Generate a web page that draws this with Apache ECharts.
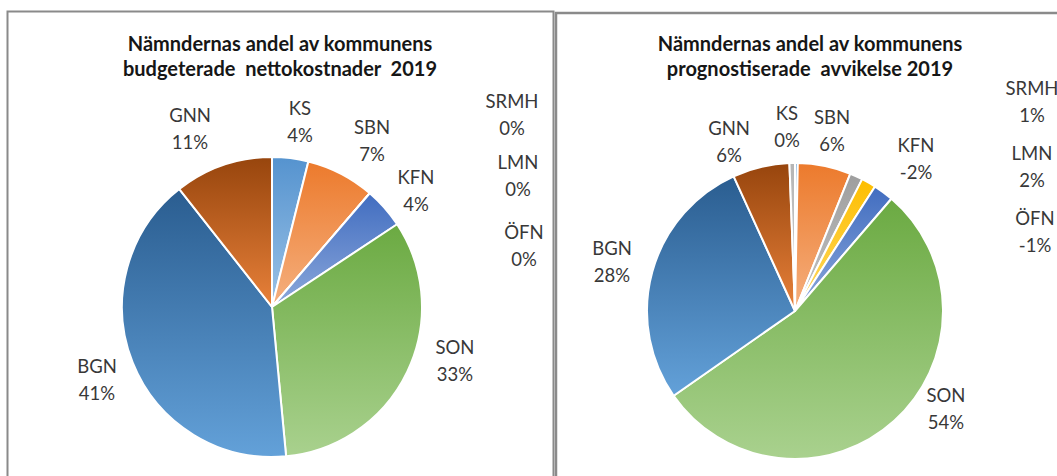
<!DOCTYPE html>
<html>
<head>
<meta charset="utf-8">
<script src="https://cdn.jsdelivr.net/npm/echarts@6/dist/echarts.min.js"></script>
<style>
html,body{margin:0;padding:0;background:#fff;}
#chart{width:1057px;height:476px;}
</style>
</head>
<body>
<div id="chart"></div>
<script>
// ---- data ----
const categories = ['KS','SBN','SRMH','LMN','KFN','SON','BGN','GNN','ÖFN'];
const budgetShare = [3.9, 7.4, 0, 0, 4.4, 32.8, 40.9, 10.6, 0];          // % of budgeted net costs 2019
const forecastShare = [0.3, 5.8, 1.4, 1.6, -2.2, 54.0, 27.9, 6.2, -0.6]; // % of forecast deviation 2019
const titleBudget = 'Nämndernas andel av kommunens\nbudgeterade  nettokostnader  2019';
const titleForecast = 'Nämndernas andel av kommunens\nprognostiserade  avvikelse 2019';

// ---- styles ----
const gradients = {
  'KS':   ['#5593CF', '#9BC2E6'],
  'SBN':  ['#EC7A2C', '#F5B07F'],
  'SRMH': ['#9E9E9E', '#C4C4C4'],
  'LMN':  ['#FDBE00', '#FFD966'],
  'KFN':  ['#416DC0', '#8CA8DB'],
  'SON':  ['#6BAA42', '#A9D18E'],
  'BGN':  ['#2A5D90', '#63A1D9'],
  'GNN':  ['#97450D', '#E8813A'],
  'ÖFN':  ['#B5B5B5', '#D0D0D0']
};
// label anchor points (centre of the two-line label), page pixels
const labelPosBudget = {
  'GNN':[190,128],'KS':[300,121],'SBN':[372,140],'KFN':[416,190],
  'SRMH':[512,114],'LMN':[518,175],'ÖFN':[524,245],'SON':[455,360],'BGN':[97,379]
};
const labelPosForecast = {
  'GNN':[729,141],'KS':[787,126],'SBN':[832,130],'KFN':[916,158],
  'SRMH':[1032,101],'LMN':[1032,166],'ÖFN':[1035,231],'BGN':[612,261],'SON':[946,408]
};

const FONT = 'Lato, "Open Sans", sans-serif';

function grad(name){
  const g = gradients[name];
  return {type:'linear', x:0, y:0, x2:0, y2:1, global:false,
    colorStops:[{offset:0,color:g[0]},{offset:1,color:g[1]}]};
}
function buildData(values){
  return categories.map((n,i)=>({
    name:n, value:Math.abs(values[i]), signed:values[i],
    itemStyle:{color:grad(n)}
  }));
}
function fmtPct(v){
  const r = Math.round(v);
  return (r === 0 ? 0 : r) + '%';
}
function pieSeries(values, center, radius, posMap){
  return {
    type:'pie',
    center:center,
    radius:radius,
    startAngle:90,
    clockwise:true,
    avoidLabelOverlap:false,
    stillShowZeroSum:true,
    animation:false,
    data:buildData(values),
    itemStyle:{borderColor:'#ffffff', borderWidth:2},
    label:{
      show:true, position:'outside',
      formatter:p=>p.name + '\n' + fmtPct(p.data.signed),
      fontFamily:FONT, fontSize:18.5, lineHeight:27, color:'#383838', align:'center'
    },
    labelLine:{show:false},
    labelLayout:function(params){
      const name = categories[params.dataIndex];
      const p = posMap[name];
      return {x:p[0], y:p[1], align:'center', verticalAlign:'middle'};
    },
    emphasis:{disabled:true}
  };
}

const chart = echarts.init(document.getElementById('chart'), null, {renderer:'svg'});
const titleStyle = {fontFamily:FONT, fontWeight:'bold', fontSize:20, lineHeight:25, color:'#161616'};
chart.setOption({
  backgroundColor:'#ffffff',
  animation:false,
  title:[
    {text:titleBudget, left:280, top:30, textAlign:'center', padding:0, textStyle:titleStyle},
    {text:titleForecast, left:810, top:30, textAlign:'center', padding:0, textStyle:titleStyle}
  ],
  graphic:[
    {type:'rect', shape:{x:7.5, y:11.5, width:546, height:520},
     style:{fill:'none', stroke:'#8a8a8a', lineWidth:2}, silent:true},
    {type:'rect', shape:{x:556, y:13, width:540, height:520},
     style:{fill:'none', stroke:'#8a8a8a', lineWidth:2.5}, silent:true}
  ],
  series:[
    pieSeries(budgetShare, [272,307], 150, labelPosBudget),
    pieSeries(forecastShare, [795,311], 148, labelPosForecast)
  ]
});
</script>
</body>
</html>
